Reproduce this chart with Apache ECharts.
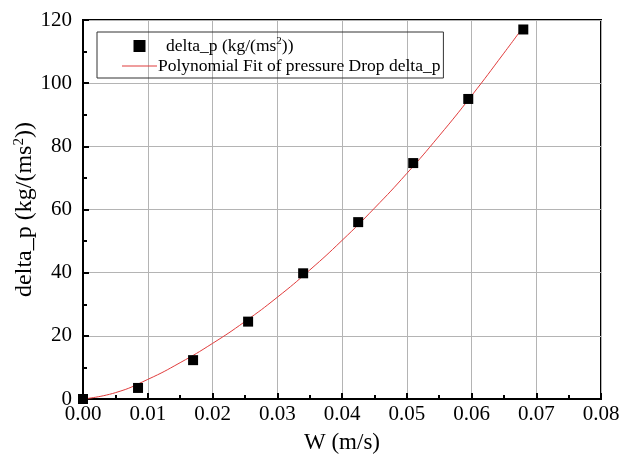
<!DOCTYPE html>
<html><head><meta charset="utf-8">
<script src="https://cdn.jsdelivr.net/npm/echarts@6/dist/echarts.min.js"></script>
<style>html,body{margin:0;padding:0;background:#fff}#c{width:626px;height:460px}</style>
</head><body><div id="c"></div>
<script>
// measured points
const pointX = [0, 0.0085, 0.017, 0.0255, 0.034, 0.0425, 0.051, 0.0595, 0.068];
const pointY = [0, 3.5, 12.3, 24.5, 39.8, 56, 74.7, 95, 117];
// fitted curve
const fitX = [0, 0.005, 0.01, 0.015, 0.02, 0.025, 0.03, 0.035, 0.04, 0.045, 0.05, 0.055, 0.06, 0.065, 0.068];
const fitY = [0, 2.0, 6.2, 11.5, 17.6, 24.5, 32.2, 40.8, 50.2, 60.4, 71.4, 83.3, 96.0, 109.5, 117.8];
const xTicks = ['0.00','0.01','0.02','0.03','0.04','0.05','0.06','0.07','0.08'];
const seriesNames = ['delta_p (kg/(ms²))', 'Polynomial Fit of pressure Drop delta_p'];

const font = 'Liberation Serif';
const chart = echarts.init(document.getElementById('c'), null, {renderer: 'canvas'});
chart.setOption({
  animation: false,
  backgroundColor: '#fff',
  grid: {left: 83, right: 25, top: 20, bottom: 61, show: true, borderColor: '#000', borderWidth: 2,
    containLabel: false, outerBoundsMode: 'none'},
  legend: {
    orient: 'vertical', left: 97, top: 32, itemGap: 2, itemWidth: 35, itemHeight: 12,
    padding: [4, 3, 3, 25],
    borderColor: '#333', borderWidth: 1, borderRadius: 0,
    textStyle: {fontFamily: font, fontSize: 17.5, color: '#000', padding: [0,0,0,-4],
      rich: {
        sup: {fontFamily: font, fontSize: 11, verticalAlign: 'top', color: '#000', padding: [0,0,9,0]},
        n: {fontFamily: font, fontSize: 17.5, color: '#000'},
        f: {fontFamily: font, fontSize: 17.5, color: '#000', padding: [0,0,0,8]}
      }},
    formatter: function (name) {
      if (name === seriesNames[0]) return '{f|delta_p (kg/(ms}{sup|2}{n|))}';
      return name;
    },
    data: [
      {name: seriesNames[0], icon: 'path://M0,0H10V10H0Z', itemStyle: {color: '#000', opacity: 1}},
      {name: seriesNames[1], icon: 'path://M0,0H35V1H0Z', itemStyle: {color: '#e03c3c'}}
    ]
  },
  xAxis: {
    type: 'value', min: 0, max: 0.08, interval: 0.01,
    name: 'W (m/s)', nameLocation: 'middle', nameGap: 32, nameMoveOverlap: false,
    nameTextStyle: {fontFamily: font, fontSize: 23, color: '#000'},
    axisLine: {show: true, onZero: false, lineStyle: {color: '#000', width: 2}},
    axisTick: {show: true, inside: true, length: 6, lineStyle: {color: '#000', width: 2}},
    minorTick: {show: true, splitNumber: 2, length: 4, lineStyle: {color: '#000', width: 2}},
    axisLabel: {margin: 5, fontFamily: font, fontSize: 21, color: '#000',
      formatter: function (v) { return xTicks[Math.round(v / 0.01)]; }},
    splitLine: {show: true, lineStyle: {color: '#b4b4b4', width: 1}}
  },
  yAxis: {
    type: 'value', min: 0, max: 120, interval: 20,
    name: 'delta_p (kg/(ms{sup|2}))', nameLocation: 'middle', nameGap: 45,
    nameMoveOverlap: false,
    nameTextStyle: {fontFamily: font, fontSize: 24, color: '#000',
      rich: {sup: {fontFamily: font, fontSize: 15, verticalAlign: 'top', color: '#000', padding: [0,0,11,0]}}},
    axisLine: {show: true, onZero: false, lineStyle: {color: '#000', width: 2}},
    axisTick: {show: true, inside: true, length: 6, lineStyle: {color: '#000', width: 2}},
    minorTick: {show: true, splitNumber: 2, length: 4, lineStyle: {color: '#000', width: 2}},
    axisLabel: {margin: 11, fontFamily: font, fontSize: 21, color: '#000'},
    splitLine: {show: true, lineStyle: {color: '#b4b4b4', width: 1}}
  },
  series: [
    {
      name: seriesNames[0], type: 'scatter', symbol: 'rect', symbolSize: 10,
      itemStyle: {color: '#000', opacity: 1}, z: 3,
      data: pointX.map((x, i) => [x, pointY[i]])
    },
    {
      name: seriesNames[1], type: 'line', symbol: 'none', smooth: true,
      lineStyle: {color: '#e03c3c', width: 1}, itemStyle: {color: '#e03c3c'}, z: 2,
      data: fitX.map((x, i) => [x, fitY[i]])
    }
  ]
});
</script></body></html>
